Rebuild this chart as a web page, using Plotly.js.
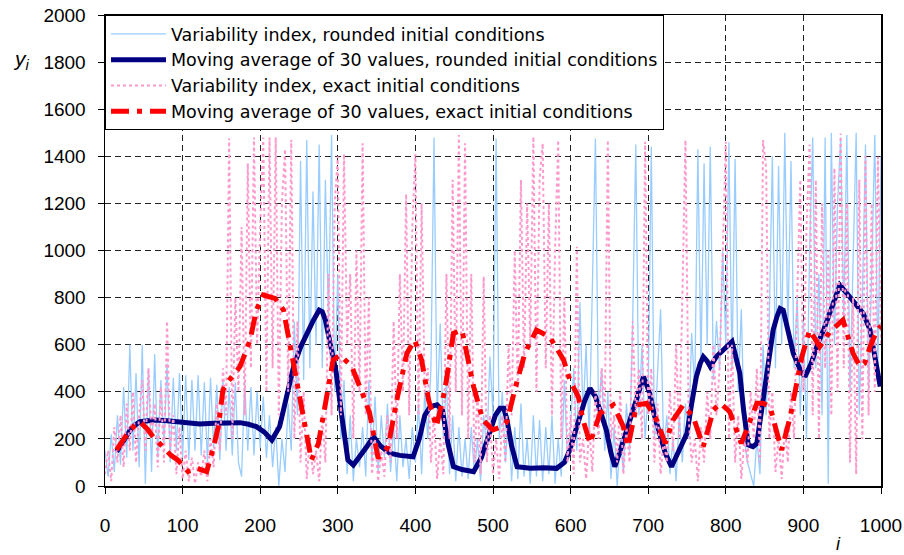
<!DOCTYPE html>
<html>
<head>
<meta charset="utf-8">
<script src="https://cdn.plot.ly/plotly-3.0.1.min.js"></script>
<style>html,body{margin:0;padding:0;background:#fff;}#chart{width:904px;height:555px;}</style>
</head>
<body>
<div id="chart"></div>
<script>
const SAMPLE_STEP = 4;

// Variability index, rounded initial conditions (i = 0,4,...,1000)
const varRounded = [
  150,40,220,60,300,90,420,120,600,150,480,80,600,10,500,60,560,120,450,180,520,100,460,150,480,
  120,470,110,450,150,470,130,440,100,460,160,430,110,450,150,420,130,440,100,40,440,150,420,130,400,
  160,380,120,300,80,250,0,200,60,350,150,700,300,1380,450,1470,500,1250,600,1450,500,1300,700,1490,400,
  900,200,450,50,300,20,200,80,250,40,450,100,380,60,300,120,350,60,250,20,300,80,200,30,250,
  100,350,50,400,200,500,1480,300,690,200,450,50,300,20,250,40,200,30,250,50,200,20,300,150,550,
  300,1476,200,400,100,300,20,250,30,350,40,200,10,300,40,280,20,250,50,300,10,200,40,450,100,
  250,500,150,780,300,600,200,800,1476,300,500,150,400,30,250,0,200,60,350,150,700,1450,300,600,200,
  400,1440,200,500,750,150,300,50,200,20,300,100,350,200,650,400,1430,500,1370,600,1440,450,700,500,1000,
  600,1460,500,1390,400,750,200,100,50,0,200,50,600,300,700,1400,500,1360,600,1500,650,1380,500,800,300,
  700,200,1000,1480,500,900,300,1480,10,1500,600,1200,1480,700,1490,400,1000,1500,300,800,1450,400,900,1490,500,1400
];

// Variability index, exact initial conditions (i = 0,4,...,1000)
const varExact = [
  50,150,20,250,100,300,80,350,150,400,100,300,450,150,500,200,350,80,420,100,700,150,300,50,250,
  30,150,20,120,10,100,40,150,20,200,80,350,150,500,300,1476,200,800,400,1100,300,1370,500,1480,600,
  1100,1480,400,1480,500,1480,300,1200,1430,400,1470,200,700,100,400,30,200,50,150,20,300,100,900,300,1200,
  1400,300,1410,600,900,200,1000,400,1455,300,800,50,200,20,150,40,300,100,700,200,900,400,1240,300,1100,
  1410,300,1200,400,500,100,300,30,200,50,900,200,1300,400,1490,300,1455,200,900,100,400,50,890,100,300,
  50,200,30,300,100,600,300,1000,400,1300,500,1200,600,1483,400,1300,1455,500,1200,300,1000,1469,200,800,100,
  300,50,1016,100,200,30,250,60,400,200,500,300,1469,200,300,100,400,50,250,100,700,300,500,200,1462,
  300,500,100,350,50,200,100,400,150,600,200,800,1469,300,100,200,20,250,100,400,200,600,300,500,1000,
  1462,200,600,100,300,30,200,100,400,200,500,100,1469,1350,200,400,60,200,30,250,100,400,200,800,1300,
  400,1100,1450,300,1300,200,1200,500,1000,300,1350,400,1497,500,1200,100,800,50,1300,200,1400,300,1200,400,1398,600
];

// Moving average of 30 values, rounded initial conditions
const maRoundedI = [15,25,35,45,55,64,80,100,122,140,160,174,185,195,205,215,225,235,243,252,260,268,276,280,284,290,298,305,313,320,330,338,346,355,367,380,397,405,412,419,428,435,442,449,460,475,485,496,503,509,514,518,524,531,548,565,582,592,599,606,612,618,625,632,640,646,652,657,664,672,680,688,694,698,702,708,715,722,730,740,750,756,762,767,771,776,780,788,797,803,808,812,818,823,829,835,840,848,855,861,866,870,874,880,887,895,902,910,918,926,935,941,947,953,960,968,977,986,992,999];
const maRoundedY = [146,200,250,273,278,280,277,272,263,266,268,269,262,252,230,195,252,400,507,590,649,700,747,740,705,600,480,300,110,89,130,170,209,170,139,130,124,200,300,337,345,320,180,82,70,61,120,224,300,330,330,280,170,82,75,78,75,100,153,230,294,360,415,380,300,238,140,82,150,238,330,400,464,430,394,300,224,140,82,150,224,350,464,520,549,530,507,550,577,600,613,560,479,320,174,167,181,365,520,662,720,754,747,660,563,500,464,520,600,662,750,800,853,830,804,770,733,662,560,422];

// Moving average of 30 values, exact initial conditions
const maExactI = [15,32,45,55,62,75,85,94,107,118,131,140,146,152,157,165,174,187,195,204,212,219,230,238,247,256,266,275,286,294,303,313,318,331,341,352,365,376,389,399,408,417,427,438,449,460,475,487,500,510,518,528,541,556,573,591,599,610,616,625,638,655,668,674,685,698,711,722,732,745,758,771,784,793,805,820,831,840,848,857,866,872,883,891,898,908,921,934,951,964,973,979,986,995,1000];
const maExactY = [153,238,273,240,209,160,130,110,61,75,61,167,252,408,436,470,507,620,747,811,805,797,747,606,422,266,110,181,394,535,556,520,507,400,309,118,167,365,563,620,535,365,252,408,648,662,422,280,238,250,273,408,563,662,634,535,450,379,280,181,309,344,252,167,344,351,280,181,280,344,294,167,323,351,316,181,280,351,351,337,224,153,294,436,549,662,592,655,705,563,507,521,592,662,680];

const seriesNames = [
  'Variability index, rounded initial conditions',
  'Moving average of 30 values, rounded initial conditions',
  'Variability index, exact initial conditions',
  'Moving average of 30 values, exact initial conditions'
];

const sampleI = varRounded.map((_, k) => k * SAMPLE_STEP);

const FONT = 'Liberation Sans, Arial, sans-serif';

const traces = [
  {x: sampleI, y: varRounded, name: seriesNames[0], mode: 'lines',
   line: {color: '#99CCFF', width: 1.3}},
  {x: maRoundedI, y: maRoundedY, name: seriesNames[1], mode: 'lines',
   line: {color: '#000080', width: 5}},
  {x: sampleI, y: varExact, name: seriesNames[2], mode: 'lines',
   line: {color: '#FF99CC', width: 2, dash: '3px,3px'}},
  {x: maExactI, y: maExactY, name: seriesNames[3], mode: 'lines',
   line: {color: '#FF0000', width: 5, dash: '18px,8px,5px,8px'}}
];

const layout = {
  width: 904, height: 555,
  margin: {l: 105, r: 23, t: 15, b: 69},
  paper_bgcolor: '#fff', plot_bgcolor: '#fff',
  font: {family: FONT, size: 19, color: '#000'},
  showlegend: true,
  legend: {x: 0, y: 1, xanchor: 'left', yanchor: 'top', bgcolor: '#fff',
           bordercolor: '#000', borderwidth: 1,
           font: {family: 'DejaVu Sans, sans-serif', size: 17.5, color: '#000'},
           itemwidth: 55, traceorder: 'normal', tracegroupgap: 0},
  xaxis: {range: [0, 1000], dtick: 100, tick0: 0, showgrid: true, gridcolor: '#222',
          griddash: '6px,4px', gridwidth: 1, showline: true, linecolor: '#000', linewidth: 1.5,
          mirror: true, ticks: 'outside', ticklen: 6, tickcolor: '#000', ticklabelstandoff: 16,
          zeroline: false, tickfont: {family: FONT, size: 19, color: '#000'}},
  yaxis: {range: [0, 2000], dtick: 200, tick0: 0, showgrid: true, gridcolor: '#222',
          griddash: '6px,4px', gridwidth: 1, showline: true, linecolor: '#000', linewidth: 1.5,
          mirror: true, ticks: 'outside', ticklen: 6, tickcolor: '#000', ticklabelstandoff: 8,
          zeroline: false, tickfont: {family: FONT, size: 19, color: '#000'}},
  annotations: [
    {text: '<i>y</i><sub><i>i</i></sub>', xref: 'paper', yref: 'paper', x: -0.108, y: 0.905,
     xanchor: 'center', yanchor: 'middle', showarrow: false, font: {family: FONT, size: 21, color: '#000'}},
    {text: '<i>i</i>', xref: 'paper', yref: 'paper', x: 0.945, y: -0.124,
     xanchor: 'center', yanchor: 'middle', showarrow: false, font: {family: FONT, size: 18, color: '#000'}}
  ]
};

Plotly.newPlot('chart', traces, layout, {displayModeBar: false, staticPlot: true});
</script>
</body>
</html>
